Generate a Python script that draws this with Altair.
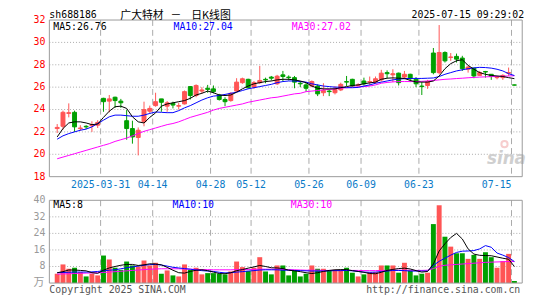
import altair as alt
import pandas as pd

RED = "#ff5555"
GREEN = "#00a000"
MONO = "DejaVu Sans Mono"
CJK = "Noto Sans CJK SC"

dates = ["03-19","03-20","03-21","03-24","03-25","03-26","03-27","03-28","03-31",
 "04-01","04-02","04-03","04-07","04-08","04-09","04-10","04-11","04-14","04-15","04-16","04-17","04-18",
 "04-21","04-22","04-23","04-24","04-25","04-28","04-29","04-30",
 "05-06","05-07","05-08","05-09","05-12","05-13","05-14","05-15","05-16","05-19","05-20","05-21","05-22","05-23",
 "05-26","05-27","05-28","05-29","05-30","06-03","06-04","06-05","06-06","06-09","06-10","06-11","06-12","06-13",
 "06-16","06-17","06-18","06-19","06-20","06-23","06-24","06-25","06-26","06-27","06-30",
 "07-01","07-02","07-03","07-04","07-07","07-08","07-09","07-10","07-11","07-14","07-15"]

opens = [22.3,22.5,23.65,23.75,22.3,22.5,22.55,22.6,25.0,24.75,
         25.1,24.75,23.0,22.3,21.5,22.9,23.85,24.35,24.95,24.3,
         24.55,24.3,24.5,26.05,25.25,25.65,25.9,25.85,25.3,24.9,
         24.8,25.65,26.4,26.7,26.0,26.4,26.7,26.9,26.3,27.1,
         26.9,26.85,26.35,26.2,26.1,26.1,25.5,25.65,25.5,25.75,
         26.5,26.7,26.15,26.55,26.45,26.45,26.65,27.3,27.1,27.25,
         26.9,27.15,26.7,26.1,26.15,29.05,27.3,29.1,28.65,28.75,
         28.6,27.6,27.7,27.05,27.4,27.15,26.85,26.85,27.25,26.2]
closes = [22.4,23.75,23.72,22.45,22.35,22.45,22.65,22.85,24.7,24.95,
          24.8,24.6,22.3,21.55,22.15,24.0,24.1,24.7,24.65,24.6,
          24.4,24.35,25.6,25.25,26.15,25.75,25.8,25.6,24.9,24.7,
          25.45,26.45,26.75,25.95,26.4,26.6,26.65,26.8,26.98,26.95,
          26.85,26.45,26.3,25.9,26.5,25.4,25.7,25.6,25.8,26.25,
          26.45,26.1,26.2,26.3,26.5,26.75,27.25,27.2,27.2,26.4,
          27.15,26.75,26.3,26.05,26.5,27.3,29.1,28.35,28.7,28.5,
          27.65,27.8,27.0,27.3,27.35,26.95,26.9,27.05,27.3,26.18]
highs = [22.7,23.9,24.55,23.9,22.6,22.6,22.95,23.05,25.05,25.3,
         25.15,24.95,23.95,23.0,22.4,24.7,24.35,25.5,24.95,24.75,
         24.7,24.6,25.7,26.1,26.25,26.0,26.2,26.15,25.4,25.1,
         25.55,26.8,26.85,26.75,26.55,27.9,26.85,27.0,27.1,27.45,
         27.05,27.0,26.55,26.4,26.6,26.25,26.35,25.8,26.1,26.4,
         27.0,26.75,26.35,26.85,26.95,26.95,27.55,27.5,27.6,27.3,
         27.45,27.2,26.9,26.45,26.65,29.5,31.55,29.2,29.05,29.0,
         28.8,27.9,27.7,27.45,27.45,27.15,27.0,27.15,27.75,26.22]
lows = [21.9,22.2,23.3,22.0,22.1,22.25,22.0,22.35,23.8,23.75,
        24.15,24.15,21.3,20.95,19.9,22.5,23.65,24.25,23.8,23.8,
        24.1,24.0,24.45,24.9,25.1,25.45,25.5,25.45,24.8,24.3,
        24.7,25.6,26.3,25.85,25.85,26.3,26.35,26.6,26.2,26.5,
        26.6,25.9,26.0,25.6,26.0,25.2,25.2,25.2,25.35,25.65,
        26.1,26.0,26.05,26.15,26.15,26.3,26.5,26.8,26.45,26.15,
        26.7,26.45,26.0,25.3,25.85,27.15,27.15,28.2,28.35,28.2,
        27.45,27.3,26.8,27.0,26.85,26.65,26.7,26.65,27.0,26.16]

ma5 = [21.55,22.3,22.8,22.9,22.9,22.8,22.65,22.7,23.3,23.85,
       24.25,24.3,24.1,23.35,22.9,22.8,23.3,23.7,24.3,24.5,
       24.6,24.7,24.8,25.0,25.3,25.45,25.65,25.5,25.3,25.25,
       25.3,25.55,25.85,26.1,26.3,26.4,26.5,26.55,26.65,26.7,
       26.7,26.65,26.55,26.4,26.1,25.9,25.85,25.85,25.85,25.95,
       26.05,26.15,26.2,26.3,26.38,26.45,26.7,26.8,26.83,26.8,
       26.78,26.6,26.47,26.45,26.45,26.55,27.0,27.65,28.1,28.36,
       28.45,27.95,27.6,27.3,27.15,27.05,27.0,26.95,26.85,26.76]
ma10 = [21.35,21.65,21.85,22.0,22.15,22.25,22.45,22.75,23.05,23.35,
        23.5,23.5,23.45,23.4,23.4,23.5,23.65,23.78,23.75,23.72,
        23.72,23.9,24.15,24.35,24.6,24.85,25.05,25.2,25.25,25.35,
        25.45,25.55,25.7,25.85,25.95,26.05,26.15,26.25,26.4,26.5,
        26.55,26.55,26.5,26.45,26.3,26.2,26.1,26.05,26.0,26.0,
        25.95,25.95,25.98,26.1,26.2,26.35,26.45,26.55,26.65,26.72,
        26.76,26.78,26.78,26.78,26.8,26.82,26.95,27.15,27.3,27.45,
        27.55,27.65,27.72,27.77,27.75,27.7,27.6,27.45,27.2,27.04]
ma30 = [19.6,19.75,19.9,20.05,20.2,20.35,20.5,20.65,20.8,20.95,
        21.15,21.3,21.45,21.65,21.85,22.05,22.2,22.35,22.5,22.65,
        22.75,22.9,23.1,23.3,23.45,23.6,23.75,23.95,24.1,24.2,
        24.3,24.4,24.5,24.65,24.75,24.85,24.95,25.05,25.1,25.2,
        25.3,25.4,25.45,25.6,25.65,25.7,25.75,25.8,25.85,25.9,
        25.95,26.0,26.02,26.05,26.1,26.2,26.35,26.42,26.47,26.5,
        26.5,26.5,26.5,26.52,26.55,26.6,26.65,26.7,26.73,26.77,
        26.8,26.84,26.87,26.9,26.92,26.94,26.96,26.98,27.0,27.02]

vols = [4.5,9.0,6.9,7.4,5.3,3.2,4.5,3.7,13.3,11.4,
        7.4,6.4,10.4,8.5,8.0,10.9,8.5,9.8,4.5,6.1,
        3.7,3.2,9.0,6.4,7.4,4.2,4.8,4.8,4.5,4.2,
        5.6,10.4,7.7,5.8,7.4,12.5,5.6,4.2,8.5,8.5,
        3.7,6.1,3.2,4.5,8.5,6.9,6.9,6.1,6.4,6.4,
        7.4,5.0,3.2,4.2,5.3,5.3,8.5,8.5,8.5,5.0,
        9.8,6.1,3.7,4.5,5.0,28.5,37.6,22.4,17.6,14.4,
        14.4,11.7,13.6,11.7,14.9,12.5,7.4,10.6,14.1,1.0]
vma5 = [5.0,5.5,6.3,6.3,6.1,5.9,5.0,4.7,6.2,7.3,
        8.0,8.6,9.0,9.0,8.5,8.8,9.3,9.2,8.8,7.6,
        6.2,5.0,4.8,5.6,6.2,6.4,6.0,5.3,4.6,4.5,
        5.0,6.0,6.5,7.2,7.8,8.5,8.0,7.4,7.3,7.0,
        6.2,5.9,5.5,5.0,4.6,5.0,5.6,6.1,6.4,6.5,
        6.5,6.0,5.6,5.2,4.6,4.5,5.2,6.1,6.6,7.0,
        7.2,6.8,6.0,5.3,5.6,9.2,15.5,19.0,22.0,24.0,
        21.3,16.5,14.0,13.4,13.3,13.2,12.6,12.0,11.5,8.0]
vma10 = [5.0,5.1,5.2,5.3,5.3,5.3,5.4,5.6,5.9,6.2,
         6.4,6.9,7.4,7.8,8.2,8.6,8.9,9.0,8.7,8.2,
         7.6,7.3,7.0,6.7,6.3,6.0,5.8,5.6,5.2,4.9,
         5.0,5.3,5.5,5.8,6.0,6.3,6.4,6.4,6.4,6.2,
         6.2,6.1,6.0,5.9,5.8,5.8,5.8,5.9,6.0,6.0,
         6.1,5.9,5.6,5.3,5.2,5.3,5.5,5.8,6.1,6.1,
         6.0,5.8,5.8,5.8,5.8,8.5,10.5,12.0,13.5,14.8,
         15.4,15.5,15.7,16.5,18.1,17.3,14.5,13.5,12.3,10.4]
vma30 = [4.3,4.4,4.5,4.6,4.7,4.8,4.9,5.0,5.1,5.3,
         5.5,5.7,5.9,6.1,6.3,6.5,6.7,6.8,6.9,6.9,
         6.9,6.9,6.8,6.7,6.6,6.5,6.5,6.4,6.4,6.4,
         6.4,6.5,6.5,6.5,6.6,6.7,6.7,6.7,6.7,6.6,
         6.5,6.4,6.3,6.2,6.2,6.2,6.1,6.1,6.1,6.1,
         6.1,6.1,6.1,6.0,6.0,6.0,6.1,6.1,6.2,6.2,
         6.2,6.2,6.1,6.1,6.2,7.0,8.1,8.6,8.8,9.0,
         9.2,9.4,9.6,9.8,10.0,10.1,10.2,10.3,10.4,10.4]

price_ticks = [18, 20, 22, 24, 26, 28, 30, 32]
price_grid = [20, 22, 24, 26, 28, 30]
vol_ticks = [8, 16, 24, 32, 40]
vol_grid = [8, 16, 24, 32]
label_dates = ["03-31", "04-14", "04-28", "05-12", "05-26", "06-09", "06-23", "07-15"]
label_texts = ["2025-03-31", "04-14", "04-28", "05-12", "05-26", "06-09", "06-23", "07-15"]

W, H = 480, 267
PH = 159
VT, VB = 183, 267

df = pd.DataFrame({"date": dates, "o": opens, "c": closes, "h": highs, "l": lows,
                   "v": vols, "ma5": ma5, "ma10": ma10, "ma30": ma30,
                   "vma5": vma5, "vma10": vma10, "vma30": vma30})
df["idx"] = range(len(df))
df["dir"] = ["up" if c >= o else "down" for o, c in zip(opens, closes)]

lab = pd.DataFrame({"date": label_dates, "text": label_texts})
lab["pos"] = [dates.index(d) - 0.5 for d in label_dates]

xs = alt.Scale(domain=[-0.5, len(dates) - 0.5], nice=False, zero=False)
ps = alt.Scale(domain=[18, 32], range=[PH, 0], nice=False, zero=False)
vs = alt.Scale(domain=[0, 40], range=[VB, VT], nice=False, zero=False)
cs = alt.Scale(domain=["up", "down"], range=[RED, GREEN])

base = alt.Chart(df)
X = alt.X("idx:Q", scale=xs, axis=None)
dummy = alt.Data(values=[{"a": 1}])

layers = []
# grids
layers.append(alt.Chart(pd.DataFrame({"g": price_grid})).mark_rule(color="#aaaaaa", strokeDash=[1, 2]).encode(
    y=alt.Y("g:Q", scale=ps, axis=None), x=alt.value(0), x2=alt.value(W)))
layers.append(alt.Chart(pd.DataFrame({"g": vol_grid})).mark_rule(color="#aaaaaa", strokeDash=[1, 2]).encode(
    y=alt.Y("g:Q", scale=vs, axis=None), x=alt.value(0), x2=alt.value(W)))
layers.append(alt.Chart(lab).mark_rule(color="#aaaaaa", strokeDash=[6, 4]).encode(
    x=alt.X("pos:Q", scale=xs, axis=None), y=alt.value(0), y2=alt.value(PH)))
layers.append(alt.Chart(lab).mark_rule(color="#aaaaaa", strokeDash=[6, 4]).encode(
    x=alt.X("pos:Q", scale=xs, axis=None), y=alt.value(VT), y2=alt.value(VB)))

# watermark
layers.append(alt.Chart(dummy).mark_point(shape="circle", size=40, color="#f4b8b8", filled=False,
                                          strokeWidth=2).encode(x=alt.value(462), y=alt.value(126)))
layers.append(alt.Chart(dummy).mark_text(text="sina", align="center", baseline="middle", color="#cfcfcf",
                                         font="DejaVu Sans", fontSize=17, fontStyle="italic",
                                         fontWeight="bold").encode(x=alt.value(464), y=alt.value(141)))

# candles
layers.append(base.mark_rule(strokeWidth=1).encode(
    x=X, y=alt.Y("l:Q", scale=ps, axis=None), y2="h:Q",
    color=alt.Color("dir:N", scale=cs, legend=None)))
layers.append(base.mark_bar(size=4, strokeWidth=1).encode(
    x=X, y=alt.Y("o:Q", scale=ps, axis=None), y2="c:Q",
    color=alt.Color("dir:N", scale=cs, legend=None),
    stroke=alt.Stroke("dir:N", scale=cs, legend=None)))
for f, col in [("ma30", "#ff00ff"), ("ma10", "#0000ff"), ("ma5", "#000000")]:
    layers.append(base.mark_line(color=col, strokeWidth=1).encode(
        x=X, y=alt.Y(f + ":Q", scale=ps, axis=None)))

# volume
layers.append(base.mark_bar(size=5).encode(
    x=X, y=alt.Y("v:Q", scale=vs, axis=None), y2=alt.datum(0),
    color=alt.Color("dir:N", scale=cs, legend=None)))
for f, col in [("vma30", "#ff00ff"), ("vma10", "#0000ff"), ("vma5", "#000000")]:
    layers.append(base.mark_line(color=col, strokeWidth=1).encode(
        x=X, y=alt.Y(f + ":Q", scale=vs, axis=None)))

# frames
for y0, y1 in [(0, PH), (VT, VB)]:
    layers.append(alt.Chart(dummy).mark_rect(fillOpacity=0, stroke="#999999", strokeWidth=1).encode(
        x=alt.value(0), x2=alt.value(W), y=alt.value(y0), y2=alt.value(y1)))

# axis labels
layers.append(alt.Chart(pd.DataFrame({"t": price_ticks})).mark_text(
    align="right", baseline="middle", color="#ff0000", font=MONO, fontSize=10).encode(
    y=alt.Y("t:Q", scale=ps, axis=None), x=alt.value(-4), text="t:Q"))
layers.append(alt.Chart(pd.DataFrame({"t": vol_ticks})).mark_text(
    align="right", baseline="middle", color="#999999", font=MONO, fontSize=10).encode(
    y=alt.Y("t:Q", scale=vs, axis=None), x=alt.value(-4), text="t:Q"))
layers.append(alt.Chart(dummy).mark_text(
    text="万", align="right", baseline="middle", color="#999999", font=CJK, fontSize=11).encode(
    x=alt.value(-5), y=alt.value(VB)))

lab_c = lab[lab["date"] != "07-15"]
lab_r = lab[lab["date"] == "07-15"]
layers.append(alt.Chart(lab_c).mark_text(
    align="center", baseline="middle", color="#0a7ac8", font=MONO, fontSize=10).encode(
    x=alt.X("pos:Q", scale=xs, axis=None), y=alt.value(168), text="text:N"))
layers.append(alt.Chart(lab_r).mark_text(
    align="right", baseline="middle", color="#0a7ac8", font=MONO, fontSize=10).encode(
    x=alt.X("pos:Q", scale=xs, axis=None), y=alt.value(168), text="text:N"))

def txt(s, x, y, color="#000000", align="left", font=MONO, size=10, **kw):
    return alt.Chart(dummy).mark_text(text=s, align=align, baseline="middle", color=color,
                                      font=font, fontSize=size, **kw).encode(
        x=alt.value(x), y=alt.value(y))

layers += [
    txt("sh688186", 0, -5),
    txt("广大特材", 72, -4, font=CJK, size=11),
    txt("－", 123, -4, font=CJK, size=11),
    txt("日K线图", 144, -4, font=CJK, size=11),
    txt("2025-07-15 09:29:02", 482, -5, align="right"),
    txt("MA5:26.76", 4, 7),
    txt("MA10:27.04", 126, 7, color="#0000ff"),
    txt("MA30:27.02", 246, 7, color="#ff00ff"),
    txt("MA5:8", 4, 188),
    txt("MA10:10", 125, 188, color="#0000ff"),
    txt("MA30:10", 245, 188, color="#ff00ff"),
    txt("Copyright 2025 SINA.COM", 0, 274, color="#555555"),
    txt("http://finance.sina.com.cn", 478, 274, color="#555555", align="right"),
]

chart = alt.layer(*layers).resolve_scale(y="independent").properties(
    width=W, height=H,
    autosize=alt.AutoSizeParams(type="none"),
    padding={"left": 42, "top": 10, "right": 15, "bottom": 15},
).configure_view(stroke=None)

chart.save("out.html", embed_options={"renderer": "svg", "actions": False})
